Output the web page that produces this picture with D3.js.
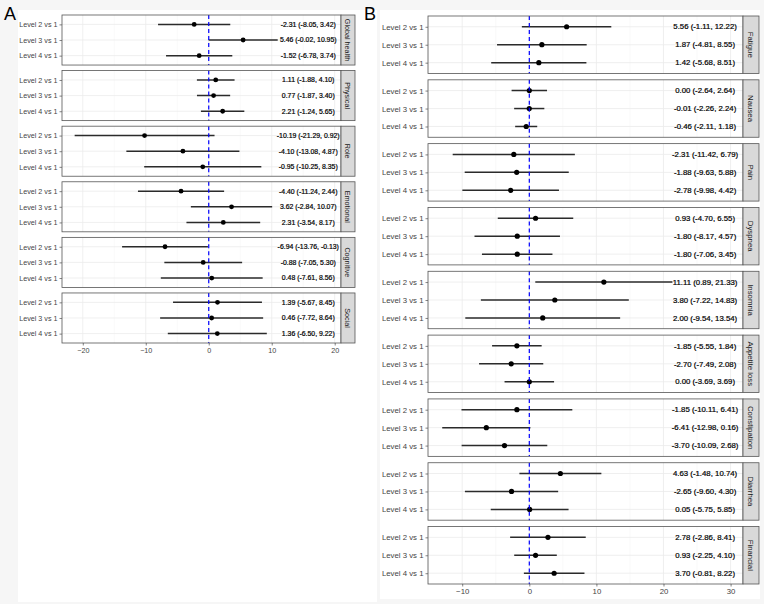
<!DOCTYPE html>
<html>
<head>
<meta charset="utf-8">
<script src="https://cdn.jsdelivr.net/npm/d3@7"></script>
<style>
  body { margin: 0; background: #f6f6f6; }
  svg { display: block; font-family: "Liberation Sans", Arial, sans-serif; }
</style>
</head>
<body>
<svg id="chart" width="764" height="604"></svg>
<script>
// comparisons shown in every facet
const comparisons = ["Level 2 vs 1", "Level 3 vs 1", "Level 4 vs 1"];

// panel A : functional scales
const domainsA = ["Global health", "Physical", "Role", "Emotional", "Cognitive", "Social"];
const estA = [[-2.31, 5.46, -1.52], [1.11, 0.77, 2.21], [-10.19, -4.10, -0.95],
              [-4.40, 3.62, 2.31], [-6.94, -0.88, 0.48], [1.39, 0.46, 1.36]];
const lowA = [[-8.05, -0.02, -6.78], [-1.88, -1.87, -1.24], [-21.29, -13.08, -10.25],
              [-11.24, -2.84, -3.54], [-13.76, -7.05, -7.61], [-5.67, -7.72, -6.50]];
const highA = [[3.42, 10.95, 3.74], [4.10, 3.40, 5.65], [0.92, 4.87, 8.35],
               [2.44, 10.07, 8.17], [-0.13, 5.30, 8.56], [8.45, 8.64, 9.22]];
const ticksA = [-20, -10, 0, 10, 20];

// panel B : symptom scales
const domainsB = ["Fatigue", "Nausea", "Pain", "Dyspnea", "Insomnia", "Appetite loss",
                  "Constipation", "Diarrhea", "Financial"];
const estB = [[5.56, 1.87, 1.42], [0.00, -0.01, -0.46], [-2.31, -1.88, -2.78],
              [0.93, -1.80, -1.80], [11.11, 3.80, 2.00], [-1.85, -2.70, 0.00],
              [-1.85, -6.41, -3.70], [4.63, -2.65, 0.05], [2.78, 0.93, 3.70]];
const lowB = [[-1.11, -4.81, -5.68], [-2.64, -2.26, -2.11], [-11.42, -9.63, -9.98],
              [-4.70, -8.17, -7.06], [0.89, -7.22, -9.54], [-5.55, -7.49, -3.69],
              [-10.11, -12.98, -10.09], [-1.48, -9.60, -5.75], [-2.86, -2.25, -0.81]];
const highB = [[12.22, 8.55, 8.51], [2.64, 2.24, 1.18], [6.79, 5.88, 4.42],
               [6.55, 4.57, 3.45], [21.33, 14.83, 13.54], [1.84, 2.08, 3.69],
               [6.41, 0.16, 2.68], [10.74, 4.30, 5.85], [8.41, 4.10, 8.22]];
const ticksB = [-10, 0, 10, 20, 30];

const svg = d3.select("#chart");

function drawPanel(opt) {
  const g = svg.append("g");

  // white plot background of this figure part
  g.append("rect")
    .attr("x", opt.bg[0]).attr("y", opt.bg[1])
    .attr("width", opt.bg[2]).attr("height", opt.bg[3])
    .attr("fill", "#fff");

  g.append("text")
    .attr("x", opt.letterX).attr("y", 20)
    .attr("font-size", 18)
    .attr("fill", "#000")
    .text(opt.letter);

  const x = d3.scaleLinear().domain(opt.xDomain).range([opt.left, opt.right]);
  const fy = d3.scaleBand().domain(opt.domains).range([opt.top, opt.bottom]).paddingInner(0.1);
  const y = d3.scalePoint().domain(comparisons).range([0, fy.bandwidth()]).padding(0.6);

  const minorTicks = d3.range(-25, 40, 10).filter(v => v > opt.xDomain[0] && v < opt.xDomain[1]);

  opt.domains.forEach((dom, i) => {
    const f = g.append("g").attr("transform", `translate(0,${fy(dom)})`);
    const h = fy.bandwidth();

    // grid
    f.selectAll(".minor").data(minorTicks).enter().append("line")
      .attr("x1", d => x(d)).attr("x2", d => x(d))
      .attr("y1", 0).attr("y2", h)
      .attr("stroke", "#f2f2f2").attr("stroke-width", 0.5);
    f.selectAll(".major").data(opt.ticks).enter().append("line")
      .attr("x1", d => x(d)).attr("x2", d => x(d))
      .attr("y1", 0).attr("y2", h)
      .attr("stroke", "#ebebeb").attr("stroke-width", 0.8);
    f.selectAll(".hgrid").data(comparisons).enter().append("line")
      .attr("x1", opt.left).attr("x2", opt.right)
      .attr("y1", d => y(d)).attr("y2", d => y(d))
      .attr("stroke", "#ebebeb").attr("stroke-width", 0.8);

    const rows = comparisons.map((c, j) => ({
      c: c, est: opt.est[i][j], lo: opt.low[i][j], hi: opt.high[i][j]
    }));

    // confidence intervals
    f.selectAll(".ci").data(rows).enter().append("line")
      .attr("x1", d => x(d.lo)).attr("x2", d => x(d.hi))
      .attr("y1", d => y(d.c)).attr("y2", d => y(d.c))
      .attr("stroke", "#2b2b2b").attr("stroke-width", 1.5);

    f.selectAll(".pt").data(rows).enter().append("circle")
      .attr("cx", d => x(d.est)).attr("cy", d => y(d.c))
      .attr("r", opt.r).attr("fill", "#000");

    // value labels
    f.selectAll(".lab").data(rows).enter().append("text")
      .attr("x", x(opt.labelX)).attr("y", d => y(d.c))
      .attr("dy", "0.35em")
      .attr("text-anchor", "middle")
      .attr("font-size", opt.labelSize)
      .attr("fill", "#000")
      .attr("stroke", "#000").attr("stroke-width", 0.2)
      .text(d => `${d.est.toFixed(2)} (${d.lo.toFixed(2)}, ${d.hi.toFixed(2)})`);

    // reference line at zero
    f.append("line")
      .attr("x1", x(0)).attr("x2", x(0))
      .attr("y1", 0).attr("y2", h)
      .attr("stroke", "#0000ff").attr("stroke-width", 1.2)
      .attr("stroke-dasharray", "4,3");

    // y axis
    const yAxis = d3.axisLeft(y).tickSize(2.5).tickPadding(2);
    const ya = f.append("g").attr("transform", `translate(${opt.left},0)`).call(yAxis);
    ya.select(".domain").remove();
    ya.selectAll("line").attr("stroke", "#333").attr("stroke-width", 0.6);
    ya.selectAll("text").attr("font-size", opt.fontSize).attr("fill", "#444")
      .attr("font-family", null);

    // panel border
    f.append("rect")
      .attr("x", opt.left).attr("y", 0)
      .attr("width", opt.right - opt.left).attr("height", h)
      .attr("fill", "none").attr("stroke", "#555").attr("stroke-width", 0.8);

    // strip
    f.append("rect")
      .attr("x", opt.right).attr("y", 0)
      .attr("width", opt.strip).attr("height", h)
      .attr("fill", "#d9d9d9").attr("stroke", "#555").attr("stroke-width", 0.8);
    f.append("text")
      .attr("transform", `translate(${opt.right + opt.strip / 2},${h / 2}) rotate(90)`)
      .attr("text-anchor", "middle")
      .attr("dy", "0.35em")
      .attr("font-size", opt.fontSize)
      .attr("fill", "#1a1a1a")
      .text(dom);
  });

  // x axis under the last facet
  const xAxis = d3.axisBottom(x).tickValues(opt.ticks).tickSize(2.5).tickPadding(2);
  const xa = g.append("g").attr("transform", `translate(0,${opt.bottom})`).call(xAxis);
  xa.select(".domain").remove();
  xa.selectAll("line").attr("stroke", "#333").attr("stroke-width", 0.6);
  xa.selectAll("text").attr("font-size", opt.fontSize).attr("fill", "#444")
    .attr("font-family", null);
}

drawPanel({
  letter: "A", letterX: 4, bg: [18, 10, 359, 592],
  domains: domainsA, est: estA, low: lowA, high: highA, ticks: ticksA,
  xDomain: [-23.3, 21], left: 62, right: 341, strip: 14,
  top: 15, bottom: 343, labelX: 15.8,
  fontSize: 7.2, labelSize: 6.9, r: 2.4
});

drawPanel({
  letter: "B", letterX: 364, bg: [380, 10, 380, 589],
  domains: domainsB, est: estB, low: lowB, high: highB, ticks: ticksB,
  xDomain: [-15.1, 31.85], left: 428, right: 743, strip: 16,
  top: 16, bottom: 584, labelX: 26.2,
  fontSize: 7.8, labelSize: 7.8, r: 2.6
});
</script>
</body>
</html>
